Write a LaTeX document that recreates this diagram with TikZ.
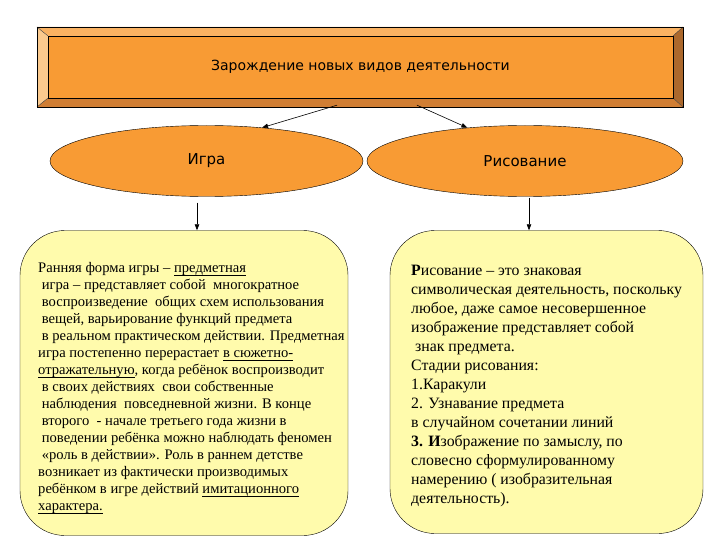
\documentclass[tikz,border=0pt]{standalone}
\usepackage{fontspec}
\setmainfont{Liberation Serif}
\newfontfamily\headfont{DejaVu Sans}
\usetikzlibrary{arrows.meta,calc,positioning,shapes.geometric}
\definecolor{zorange}{RGB}{248,155,52}
\definecolor{zlight}{RGB}{250,178,98}
\definecolor{zpeach}{RGB}{251,202,142}
\definecolor{zdark}{RGB}{208,126,52}
\definecolor{zbrown}{RGB}{172,104,44}
\definecolor{zyellow}{RGB}{255,251,172}
\newcommand{\podch}[1]{{\setbox0\hbox{#1}\rlap{\rule[-3pt]{\wd0}{0.6pt}}\box0}}
\tikzset{
  tema/.style={
    draw=black,
    fill=zorange,
    minimum width=625pt,
    minimum height=62pt,
    inner sep=0pt,
    font=\headfont\fontsize{14}{16}\selectfont
  },
  vid/.style={
    ellipse,
    draw=black,
    fill=zorange,
    minimum height=71pt,
    inner sep=0pt,
    font=\headfont\fontsize{15}{17}\selectfont
  },
  opis/.style={
    rounded corners=45pt,
    draw=black,
    fill=zyellow
  },
  tekst/.style={
    anchor=north west,
    align=left,
    inner sep=0pt
  },
  fask/.style={
    draw=black!75,
    line join=round
  },
  arrow/.style={
    -{Triangle[length=6pt,width=4.5pt]},
    semithick,
    black
  }
}

\begin{document}
\begin{tikzpicture}[x=1pt,y=-1pt]
\useasboundingbox (0,0) rectangle (720,540);
% bevelled frame
\node[tema] (title) at (360.5,67) {Зарождение новых видов деятельности};
\fill[zlight] (37,27) -- (683,27) -- (title.north east) -- (title.north west) -- cycle;
\fill[zpeach] (37,27) -- (title.north west) -- (title.south west) -- (37,107) -- cycle;
\fill[zbrown] (683,27) -- (683,107) -- (title.south east) -- (title.north east) -- cycle;
\fill[zdark] (37,107) -- (683,107) -- (title.south east) -- (title.south west) -- cycle;
\draw[fask] (37,27) -- (title.north west) (683,27) -- (title.north east)
  (683,107) -- (title.south east) (37,107) -- (title.south west);
\draw[black] (37,27) rectangle (683,107);
\node[tema] at (title) {Зарождение новых видов деятельности};

\node[vid,minimum width=313pt] (igra) at (206.5,161) {Игра};
\node[vid,minimum width=316pt] (risovanie) at (525,161) {Рисование};

\node[opis,minimum width=328pt,minimum height=305pt] (igrabox) at (184,383) {};
\node[opis,minimum width=313pt,minimum height=303pt] (risovaniebox) at (546.5,382) {};

\node[tekst,font=\fontsize{14.6}{17}\selectfont] (igratext) at (38,262)
{Ранняя форма игры – \podch{предметная}\\
\ игра – представляет собой \ многократное\\
\ воспроизведение \ общих схем использования\\
\ вещей, варьирование функций предмета\\
\ в реальном практическом действии. Предметная\\
игра постепенно перерастает \podch{в сюжетно-}\\
\podch{отражательную}, когда ребёнок воспроизводит\\
\ в своих действиях \ свои собственные\\
\ наблюдения \ повседневной жизни. В конце\\
\ второго \ - начале третьего года жизни в\\
\ поведении ребёнка можно наблюдать феномен\\
\ «роль в действии». Роль в раннем детстве\\
возникает из фактически производимых\\
ребёнком в игре действий \podch{имитационного}\\
\podch{характера.}};

\node[tekst,font=\fontsize{15.8}{19}\selectfont] (risovanietext) at (411,265)
{\textbf{Р}исование – это знаковая\\
символическая деятельность, поскольку\\
любое, даже самое несовершенное\\
изображение представляет собой\\
\ знак предмета.\\
Стадии рисования:\\
1.Каракули\\
2. Узнавание предмета\\
в случайном сочетании линий\\
\textbf{3. И}зображение по замыслу, по\\
словесно сформулированному\\
намерению ( изобразительная\\
деятельность).};

\draw[arrow] ([xshift=-23.5pt,yshift=-7pt]title.south) -- (igra.31);
\draw[arrow] ([xshift=56.5pt,yshift=-7pt]title.south) -- (risovanie.150);
\coordinate (a1) at ([xshift=-9.5pt,yshift=-6pt]igra.south);
\coordinate (a2) at ([xshift=4pt,yshift=-1pt]risovanie.south);
\draw[arrow] (a1) -- (a1 |- igrabox.north);
\draw[arrow] (a2) -- (a2 |- risovaniebox.north);
\end{tikzpicture}
\end{document}
